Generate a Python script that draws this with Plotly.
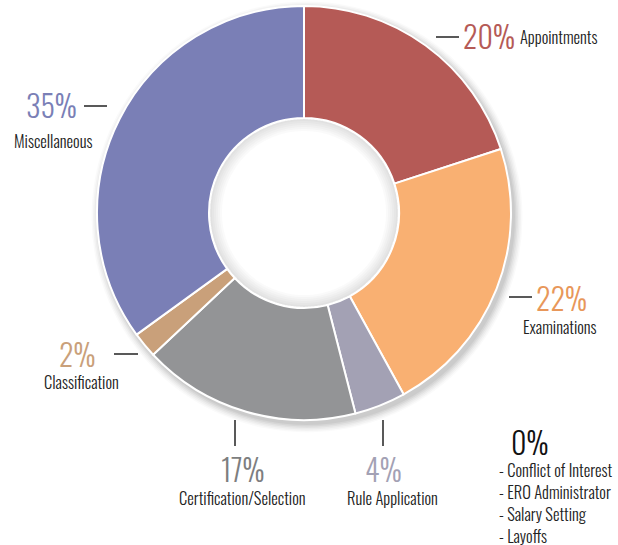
import plotly.graph_objects as go

# Share of cases by category (percent)
categories = ["Appointments", "Examinations", "Rule Application",
              "Certification/Selection", "Classification", "Miscellaneous"]
shares = [20, 22, 4, 17, 2, 35]
slice_colors = ["#b55a56", "#f9b072", "#a3a1b4", "#939496", "#c9a07a", "#7a7fb6"]
pct_colors = ["#b55a56", "#e8975a", "#a3a1b4", "#7d7e80", "#c9a07a", "#7a7fb6"]

# Categories with no cases
zero_categories = ["Conflict of Interest", "ERO Administrator", "Salary Setting", "Layoffs"]

W, H = 618, 545
FONT = "Oswald, 'Roboto Condensed', 'Liberation Sans Narrow', Roboto, sans-serif"
CX, CY, R_OUT, R_IN = 304, 213, 207, 95


def px(x):
    return x / W


def py(y):
    return 1 - y / H


def disk_domain(cx, cy, r):
    return dict(x=[px(cx - r), px(cx + r)], y=[py(cy + r), py(cy - r)])


def disk(color, cx, cy, r, hole=0):
    return go.Pie(
        values=[1], sort=False, hole=hole, textinfo="none", hoverinfo="skip",
        marker=dict(colors=[color], line=dict(width=0)),
        domain=disk_domain(cx, cy, r), showlegend=False,
    )


fig = go.Figure()

# Soft drop shadow behind the ring (kept inside the page)
for k in range(6):
    fig.add_trace(disk(f"rgba(0,0,0,{0.05 - 0.006 * k:.3f})",
                       CX + 3, CY + 4, R_OUT + 1 + 1.5 * k))

# Main donut
fig.add_trace(go.Pie(
    labels=categories,
    values=shares,
    sort=False,
    direction="clockwise",
    rotation=0,
    hole=R_IN / R_OUT,
    marker=dict(colors=slice_colors, line=dict(color="white", width=2)),
    textinfo="none",
    hoverinfo="label+percent",
    domain=disk_domain(CX, CY, R_OUT),
    showlegend=False,
))

# White centre, then faint shading along the hole edge
fig.add_trace(disk("white", CX, CY, R_IN))
for k in range(1, 7):
    fig.add_trace(disk("rgba(0,0,0,0.02)", CX, CY, R_IN - 1,
                       hole=(R_IN - 1 - 2 * k) / (R_IN - 1)))

# Label placement: (pct x, pct y, pct anchor), (name x, name y, name anchor), leader line
placements = {
    "Appointments": ((461, 35, "left"), (518, 36, "left"), ("h", 436, 459, 37)),
    "Examinations": ((534, 297, "left"), (521, 326, "left"), ("h", 509, 532, 297)),
    "Rule Application": ((383, 468, "center"), (392, 497, "center"), ("v", 383, 420, 446)),
    "Certification/Selection": ((242, 468, "center"), (242, 497, "center"), ("v", 235, 420, 446)),
    "Classification": ((98, 353, "right"), (81, 381, "center"), ("h", 114, 138, 354)),
    "Miscellaneous": ((79, 105, "right"), (53, 140, "center"), ("h", 84, 107, 106)),
}

annotations = []
shapes = []
for cat, val, col in zip(categories, shares, pct_colors):
    (tx, ty, ta), (nx, ny, na), line = placements[cat]
    annotations.append(dict(
        x=px(tx), y=py(ty), xref="paper", yref="paper",
        text=f"{val}%", showarrow=False, xanchor=ta, yanchor="middle",
        font=dict(family=FONT, size=30, weight=300, color=col),
    ))
    annotations.append(dict(
        x=px(nx), y=py(ny), xref="paper", yref="paper",
        text=cat, showarrow=False, xanchor=na, yanchor="middle",
        font=dict(family=FONT, size=16.5, weight=300, color="#222222"),
    ))
    if line[0] == "h":
        _, x0, x1, yy = line
        shapes.append(dict(type="line", xref="paper", yref="paper",
                           x0=px(x0), x1=px(x1), y0=py(yy), y1=py(yy),
                           line=dict(color="#222222", width=1.5)))
    else:
        _, xx, y0, y1 = line
        shapes.append(dict(type="line", xref="paper", yref="paper",
                           x0=px(xx), x1=px(xx), y0=py(y0), y1=py(y1),
                           line=dict(color="#222222", width=1.5)))

# Zero-share block
annotations.append(dict(
    x=px(509), y=py(441), xref="paper", yref="paper",
    text="0%", showarrow=False, xanchor="left", yanchor="middle",
    font=dict(family=FONT, size=30, weight=300, color="#111111"),
))
for i, name in enumerate(zero_categories):
    annotations.append(dict(
        x=px(497), y=py(469 + i * 22), xref="paper", yref="paper",
        text=f"- {name}", showarrow=False, xanchor="left", yanchor="middle",
        font=dict(family=FONT, size=16.5, weight=300, color="#222222"),
    ))

fig.update_layout(
    width=W, height=H,
    margin=dict(l=0, r=0, t=0, b=0),
    paper_bgcolor="white", plot_bgcolor="white",
    annotations=annotations, shapes=shapes,
)

fig.write_html("out.html")
